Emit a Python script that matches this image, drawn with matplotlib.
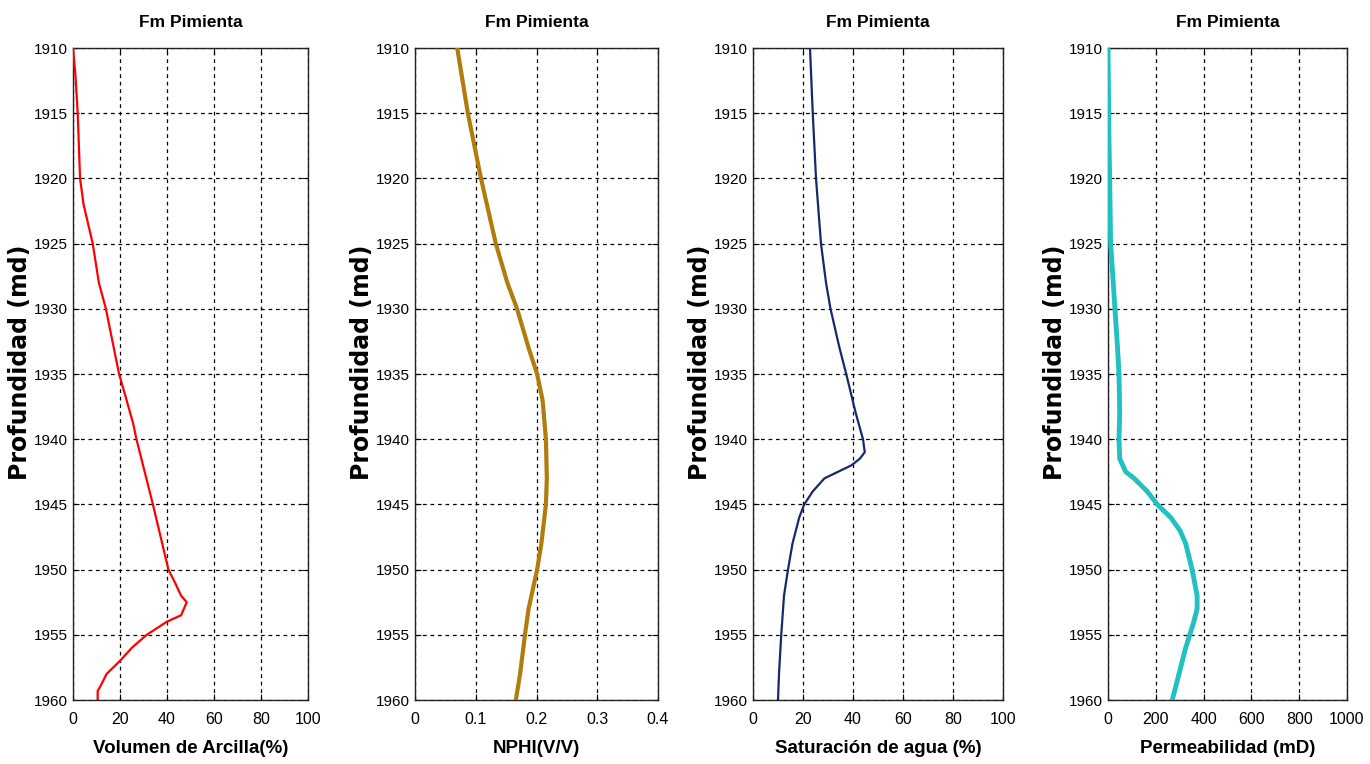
import matplotlib
matplotlib.use("Agg")
import matplotlib.pyplot as plt

# depth samples (md) and curves
vsh_depth = [1910, 1912, 1915, 1920, 1922, 1925, 1928, 1930, 1935, 1937, 1938.8, 1940,
             1945, 1950, 1951, 1952, 1952.5, 1953.5, 1954, 1955, 1956, 1957, 1958, 1959,
             1959.3, 1960]
vsh = [0, 1, 2, 3, 4.5, 8.4, 11, 14, 19.6, 22.8, 25.6, 27, 34, 40.6, 43.4, 46, 48.4,
       46, 39.9, 31.4, 25, 20, 14.3, 11.5, 10.5, 10.5]

nphi_depth = [1910, 1915, 1920, 1925, 1928, 1930, 1933, 1935, 1937, 1940, 1943, 1945,
              1948, 1950, 1953, 1955, 1958, 1960]
nphi = [0.0695, 0.087, 0.1086, 0.133, 0.152, 0.168, 0.187, 0.201, 0.21, 0.2155, 0.217,
        0.2155, 0.208, 0.201, 0.187, 0.181, 0.173, 0.166]

sw_depth = [1910, 1915, 1920, 1925, 1928, 1930, 1933, 1935, 1938, 1940, 1941, 1941.5,
            1942, 1942.5, 1943, 1944, 1945, 1946, 1948, 1950, 1952, 1955, 1958, 1960]
sw = [22.8, 23.9, 25.2, 27.2, 29.2, 31, 34.6, 37.3, 41.1, 44, 44.7, 42.7, 39.4, 34,
      28.6, 23.9, 20.5, 18.5, 15.8, 14, 12.4, 11.3, 10.4, 10]

perm_depth = [1910, 1917, 1920, 1925, 1928, 1930, 1933, 1935, 1938, 1940, 1941.5,
              1942.5, 1943, 1944, 1945, 1946, 1947, 1948, 1950, 1952, 1953, 1954, 1956,
              1958, 1960]
perm = [0, 4, 7, 11, 22, 29, 40, 46, 49, 46, 49, 74, 109, 164, 206, 262, 301, 325,
        352, 373, 373, 359, 325, 297, 269]

xlabels = ["Volumen de Arcilla(%)", "NPHI(V/V)", "Saturación de agua (%)",
           "Permeabilidad (mD)"]
xlims = [(0, 100), (0, 0.4), (0, 100), (0, 1000)]
xticks = [[0, 20, 40, 60, 80, 100], [0, 0.1, 0.2, 0.3, 0.4],
          [0, 20, 40, 60, 80, 100], [0, 200, 400, 600, 800, 1000]]
xticklabels = [["0", "20", "40", "60", "80", "100"], ["0", "0.1", "0.2", "0.3", "0.4"],
               ["0", "20", "40", "60", "80", "100"],
               ["0", "200", "400", "600", "800", "1000"]]
yticks = list(range(1910, 1961, 5))

series = [(vsh, vsh_depth, "#ff0000", 1.6),
          (nphi, nphi_depth, "#b07d0c", 3.0),
          (sw, sw_depth, "#18296b", 1.6),
          (perm, perm_depth, "#22c1c1", 3.5)]

# axes boxes in pixels (left, width)
boxes = [(73, 235), (415, 243), (753, 250), (1108, 239)]

W, H = 1370, 764
fig = plt.figure(figsize=(W / 100, H / 100), dpi=100)
fig.patch.set_facecolor("white")

tick_font = ["Liberation Sans Narrow", "Liberation Sans", "DejaVu Sans"]
label_font = ["Liberation Sans", "DejaVu Sans"]

for i, ((xs, ds, color, lw), (x0, w)) in enumerate(zip(series, boxes)):
    ax = fig.add_axes((x0 / W, 1 - 700 / H, w / W, 652 / H))
    ax.plot(xs, ds, color=color, linewidth=lw, zorder=3)
    ax.set_xlim(*xlims[i])
    ax.set_ylim(1960, 1910)
    ax.set_xticks(xticks[i])
    ax.set_xticklabels(xticklabels[i], family=tick_font, fontsize=11.5)
    ax.set_yticks(yticks)
    ax.set_yticklabels([str(t) for t in yticks], family=tick_font, fontsize=11)
    ax.tick_params(direction="in", length=4, width=0.8, top=True, right=True)
    ax.tick_params(axis="x", pad=9)
    ax.tick_params(axis="y", pad=4)
    ax.grid(True, color="black", linestyle=(0, (3, 3)), linewidth=0.9)
    for s in ax.spines.values():
        s.set_linewidth(1.0)
        s.set_color("#222222")
    ax.set_title("Fm Pimienta", family=label_font, fontweight="bold", fontsize=12.5,
                 pad=15)
    ax.set_xlabel(xlabels[i], family=label_font, fontweight="bold", fontsize=13.5,
                  labelpad=9)
    ax.set_ylabel("Profundidad (md)", family="DejaVu Sans", fontweight="bold",
                  fontsize=17)
    ax.yaxis.set_label_coords(-41 / w, 0.518)

fig.savefig("out.png", dpi=100)
